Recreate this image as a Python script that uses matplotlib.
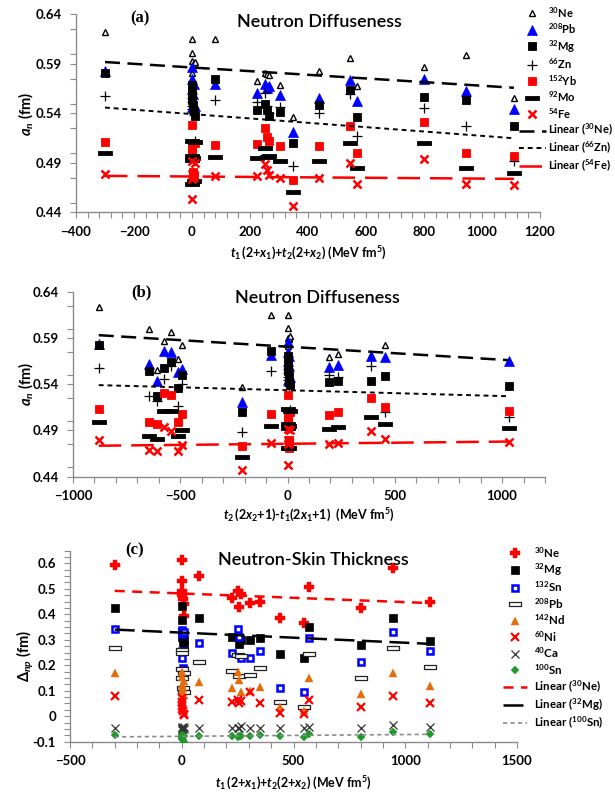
import numpy as np
import matplotlib
matplotlib.use('Agg')
import matplotlib.pyplot as plt
from matplotlib.path import Path
from matplotlib.ticker import MultipleLocator, FixedLocator, FixedFormatter

plt.rcParams['font.family'] = ['Lato', 'DejaVu Sans']
plt.rcParams['mathtext.fontset'] = 'custom'
plt.rcParams['mathtext.it'] = 'Lato:italic:bold'
plt.rcParams['mathtext.rm'] = 'Lato:bold'
plt.rcParams['mathtext.bf'] = 'Lato:bold'
plt.rcParams['mathtext.default'] = 'regular'

# ---------------- data: panel (a) ----------------
x_sum = [-300, 0, 0, 0, 0, 5, 8, 10, 78, 225, 250, 258, 265, 305, 348, 438, 545, 570, 800, 945, 1110]
an_Ne30 = [0.622, 0.615, 0.601, 0.593, 0.581, 0.589, 0.590, 0.592, 0.615, 0.573, 0.581, 0.580, 0.579, 0.569, 0.536, 0.583, 0.596, 0.568, 0.587, 0.599, 0.556]
an_Pb208 = [0.583, 0.587, 0.575, 0.547, 0.565, 0.560, 0.570, 0.548, 0.570, 0.561, 0.570, 0.566, 0.568, 0.559, 0.521, 0.556, 0.574, 0.553, 0.575, 0.563, 0.545]
an_Mg32 = [0.581, 0.569, 0.564, 0.559, 0.554, 0.549, 0.543, 0.537, 0.575, 0.544, 0.550, 0.544, 0.537, 0.542, 0.510, 0.549, 0.564, 0.536, 0.557, 0.554, 0.527]
an_Zn66 = [0.558, 0.556, 0.552, 0.545, 0.548, 0.541, 0.538, 0.512, 0.554, 0.552, 0.561, 0.548, 0.540, 0.547, 0.487, 0.541, 0.560, 0.517, 0.546, 0.527, 0.492]
an_Yb152 = [0.511, 0.528, 0.506, 0.501, 0.496, 0.481, 0.478, 0.510, 0.508, 0.509, 0.525, 0.516, 0.512, 0.507, 0.473, 0.507, 0.527, 0.500, 0.531, 0.500, 0.497]
an_Mo92 = [0.500, 0.512, 0.493, 0.469, 0.497, 0.495, 0.472, 0.511, 0.496, 0.495, 0.505, 0.496, 0.497, 0.492, 0.461, 0.492, 0.510, 0.485, 0.510, 0.485, 0.480]
an_Fe54 = [0.479, 0.492, 0.479, 0.474, 0.454, 0.477, 0.476, 0.490, 0.477, 0.477, 0.489, 0.483, 0.478, 0.475, 0.447, 0.475, 0.490, 0.469, 0.494, 0.469, 0.468]
trend_a_Ne30 = [0.592, 0.566]
trend_a_Zn66 = [0.546, 0.515]
trend_a_Fe54 = [0.477, 0.474]

# ---------------- data: panel (b) ----------------
x_diff = [-880, -644, -609, -574, -543, -512, -493, -214, -78, 0, 0, 0, 0, 5, 8, 10, 191, 233, 391, 453, 1030]
bn_Ne30 = [0.623, 0.600, 0.555, 0.587, 0.596, 0.567, 0.582, 0.537, 0.615, 0.615, 0.601, 0.590, 0.581, 0.589, 0.590, 0.592, 0.569, 0.573, 0.572, 0.582, 0.565]
bn_Pb208 = [0.584, 0.562, 0.543, 0.576, 0.575, 0.553, 0.556, 0.521, 0.572, 0.586, 0.575, 0.545, 0.565, 0.560, 0.570, 0.548, 0.559, 0.561, 0.571, 0.569, 0.565]
bn_Mg32 = [0.582, 0.554, 0.527, 0.558, 0.564, 0.536, 0.550, 0.510, 0.576, 0.570, 0.564, 0.559, 0.554, 0.549, 0.544, 0.539, 0.542, 0.543, 0.543, 0.549, 0.538]
bn_Zn66 = [0.558, 0.527, 0.522, 0.546, 0.560, 0.516, 0.540, 0.488, 0.554, 0.556, 0.552, 0.545, 0.548, 0.541, 0.538, 0.512, 0.550, 0.548, 0.560, 0.510, 0.505]
bn_Yb152 = [0.513, 0.499, 0.497, 0.531, 0.528, 0.499, 0.508, 0.473, 0.508, 0.528, 0.506, 0.501, 0.496, 0.480, 0.471, 0.510, 0.507, 0.510, 0.525, 0.515, 0.511]
bn_Mo92 = [0.499, 0.484, 0.481, 0.511, 0.511, 0.484, 0.491, 0.461, 0.495, 0.513, 0.493, 0.471, 0.497, 0.495, 0.471, 0.511, 0.492, 0.494, 0.505, 0.497, 0.493]
bn_Fe54 = [0.480, 0.469, 0.468, 0.494, 0.489, 0.468, 0.474, 0.447, 0.476, 0.492, 0.480, 0.475, 0.453, 0.477, 0.476, 0.490, 0.475, 0.476, 0.489, 0.481, 0.478]
trend_b_Ne30 = [0.593, 0.566]
trend_b_Zn66 = [0.539, 0.527]
trend_b_Fe54 = [0.4735, 0.478]

# ---------------- data: panel (c) ----------------
np_Ne30 = [0.593, 0.613, 0.530, 0.490, 0.475, 0.460, 0.440, 0.395, 0.552, 0.465, 0.491, 0.430, 0.480, 0.443, 0.449, 0.384, 0.364, 0.508, 0.426, 0.580, 0.449]
np_Mg32 = [0.423, 0.432, 0.378, 0.330, 0.310, 0.293, 0.280, 0.300, 0.384, 0.312, 0.312, 0.285, 0.300, 0.299, 0.308, 0.244, 0.230, 0.349, 0.279, 0.387, 0.296]
np_Sn132 = [0.342, 0.338, 0.321, 0.256, 0.230, 0.188, 0.180, 0.330, 0.286, 0.247, 0.342, 0.312, 0.227, 0.227, 0.256, 0.109, 0.096, 0.308, 0.211, 0.332, 0.257]
np_Pb208 = [0.269, 0.260, 0.247, 0.185, 0.151, 0.109, 0.096, 0.170, 0.214, 0.179, 0.240, 0.159, 0.235, 0.162, 0.188, 0.054, 0.037, 0.243, 0.149, 0.266, 0.194]
np_Nd142 = [0.168, 0.175, 0.155, 0.122, 0.096, 0.110, 0.085, 0.140, 0.133, 0.109, 0.175, 0.142, 0.096, 0.100, 0.116, 0.035, 0.022, 0.151, 0.086, 0.168, 0.119]
np_Ni60 = [0.079, 0.070, 0.055, 0.040, 0.030, 0.020, 0.010, 0.005, 0.064, 0.057, 0.064, 0.050, 0.058, 0.096, 0.050, 0.011, 0.009, 0.064, 0.035, 0.081, 0.050]
np_Ca40 = [-0.045, -0.041, -0.054, -0.045, -0.050, -0.048, -0.043, -0.052, -0.045, -0.045, -0.045, -0.045, -0.040, -0.045, -0.045, -0.045, -0.045, -0.041, -0.045, -0.034, -0.041]
np_Sn100 = [-0.074, -0.074, -0.080, -0.085, -0.090, -0.095, -0.100, -0.078, -0.076, -0.076, -0.080, -0.076, -0.078, -0.076, -0.074, -0.076, -0.080, -0.071, -0.080, -0.061, -0.071]
trend_c_Ne30 = [0.492, 0.444]
trend_c_Mg32 = [0.340, 0.284]
trend_c_Sn100 = [-0.081, -0.071]

ytick_a = [0.44, 0.49, 0.54, 0.59, 0.64]
ytick_labels_a = ['0.44', '0.49', '0.54', '0.59', '0.64']
xtick_b = [-1000, -500, 0, 500, 1000]
ytick_c = [-0.1, 0.0, 0.1, 0.2, 0.3, 0.4, 0.5, 0.6]
ytick_labels_c = ['-0.1', '0', '0.1', '0.2', '0.3', '0.4', '0.5', '0.6']

# ---------------- styling ----------------
W, H = 615, 796
fig = plt.figure(figsize=(W / 100, H / 100), dpi=100)

def fx(px):
    return px / W

def fy(py):
    return 1 - py / H

ax_a = fig.add_axes([fx(76), fy(212.5), fx(540 - 76), 198 / H])
ax_b = fig.add_axes([fx(73), fy(476.7), fx(545 - 73), 185 / H])
ax_c = fig.add_axes([fx(70), fy(741.7), fx(517 - 70), (741.7 - 550.6) / H])

dash_solid = Path([(-1.5, -0.5), (1.5, -0.5), (1.5, 0.5), (-1.5, 0.5), (-1.5, -0.5)],
                  [Path.MOVETO, Path.LINETO, Path.LINETO, Path.LINETO, Path.CLOSEPOLY])
dash_hollow = Path([(-1.25, -0.5), (1.25, -0.5), (1.25, 0.5), (-1.25, 0.5), (-1.25, -0.5)],
                   [Path.MOVETO, Path.LINETO, Path.LINETO, Path.LINETO, Path.CLOSEPOLY])

SPINE = '#8c8c8c'
TICKFS = 9.5


def style_axes(ax):
    for s in ['top', 'right']:
        ax.spines[s].set_visible(False)
    for s in ['left', 'bottom']:
        ax.spines[s].set_color(SPINE)
        ax.spines[s].set_linewidth(1.0)
    ax.tick_params(axis='both', which='both', direction='out', color=SPINE, width=0.8, length=4.5)
    ax.tick_params(axis='x', which='major', pad=5, labelsize=TICKFS)
    ax.tick_params(axis='y', which='major', pad=5.5, labelsize=TICKFS)


def bold_ticklabels(ax):
    for lab in ax.get_xticklabels() + ax.get_yticklabels():
        lab.set_fontweight('bold')


def diffuseness_panel(ax, x, ne, pb, mg, zn, yb, mo, fe, tne, tzn, tfe):
    ax.plot(x, ne, ls='none', marker='^', ms=4.6, mfc='white', mec='black', mew=1.0, label=r'$^{30}$Ne', zorder=3)
    ax.plot(x, pb, ls='none', marker='^', ms=7, mfc='#0000ff', mec='#0000ff', mew=0.5, label=r'$^{208}$Pb', zorder=3)
    ax.plot(x, mg, ls='none', marker='s', ms=6.2, mfc='black', mec='black', mew=0.6, label=r'$^{32}$Mg', zorder=3)
    ax.plot(x, zn, ls='none', marker='+', ms=7.5, mec='black', mew=0.9, label=r'$^{66}$Zn', zorder=3)
    ax.plot(x, yb, ls='none', marker='s', ms=6.2, mfc='#ff0000', mec='#ff0000', mew=0.6, label=r'$^{152}$Yb', zorder=3)
    ax.plot(x, mo, ls='none', marker=dash_solid, ms=9.5, mfc='black', mec='black', mew=0.6, label=r'$^{92}$Mo', zorder=3)
    ax.plot(x, fe, ls='none', marker='x', ms=5.5, mec='#ff0000', mew=1.8, label=r'$^{54}$Fe', zorder=3)
    xr = [min(x), max(x)]
    ax.plot(xr, tne, color='black', lw=1.8, ls=(0, (6, 3)), label=r'Linear ($^{30}$Ne)', zorder=4)
    ax.plot(xr, tzn, color='black', lw=1.4, ls=(0, (2.5, 2)), label=r'Linear ($^{66}$Zn)', zorder=4)
    ax.plot(xr, tfe, color='#ff0000', lw=1.8, ls=(0, (9, 4)), label=r'Linear ($^{54}$Fe)', zorder=4)
    ax.set_ylim(0.44, 0.64)
    ax.yaxis.set_major_locator(FixedLocator(ytick_a))
    ax.yaxis.set_major_formatter(FixedFormatter(ytick_labels_a))
    ax.yaxis.set_minor_locator(MultipleLocator(0.025))
    style_axes(ax)


# ---- panel (a)
diffuseness_panel(ax_a, x_sum, an_Ne30, an_Pb208, an_Mg32, an_Zn66, an_Yb152, an_Mo92, an_Fe54,
                  trend_a_Ne30, trend_a_Zn66, trend_a_Fe54)
ax_a.set_xlim(-400, 1200)
ax_a.xaxis.set_major_locator(MultipleLocator(200))
ax_a.xaxis.set_minor_locator(MultipleLocator(40))
bold_ticklabels(ax_a)

# ---- panel (b)
diffuseness_panel(ax_b, x_diff, bn_Ne30, bn_Pb208, bn_Mg32, bn_Zn66, bn_Yb152, bn_Mo92, bn_Fe54,
                  trend_b_Ne30, trend_b_Zn66, trend_b_Fe54)
ax_b.set_xlim(-1000, 1200)
ax_b.xaxis.set_major_locator(FixedLocator(xtick_b))
ax_b.xaxis.set_minor_locator(MultipleLocator(100))
bold_ticklabels(ax_b)

# ---- panel (c)
axc = ax_c
axc.plot(x_sum, np_Ne30, ls='none', marker='P', ms=7.5, mfc='#ff0000', mec='#ff0000', mew=0.3, label=r'$^{30}$Ne', zorder=3)
axc.plot(x_sum, np_Mg32, ls='none', marker='s', ms=5.5, mfc='black', mec='black', mew=0.5, label=r'$^{32}$Mg', zorder=3)
axc.plot(x_sum, np_Sn132, ls='none', marker='s', ms=5.0, mfc='white', mec='#0000ff', mew=1.8, label=r'$^{132}$Sn', zorder=3)
axc.plot(x_sum, np_Pb208, ls='none', marker=dash_hollow, ms=8, mfc='white', mec='#222222', mew=0.9, label=r'$^{208}$Pb', zorder=3)
axc.plot(x_sum, np_Nd142, ls='none', marker='^', ms=6.3, mfc='#e46c0a', mec='#e46c0a', mew=0.3, label=r'$^{142}$Nd', zorder=3)
axc.plot(x_sum, np_Ni60, ls='none', marker='x', ms=5.5, mec='#ff0000', mew=1.6, label=r'$^{60}$Ni', zorder=3)
axc.plot(x_sum, np_Ca40, ls='none', marker='x', ms=6, mec='#333333', mew=0.9, label=r'$^{40}$Ca', zorder=3)
axc.plot(x_sum, np_Sn100, ls='none', marker='D', ms=4.5, mfc='#1f9a2a', mec='#1f9a2a', mew=0.3, label=r'$^{100}$Sn', zorder=3)
xr = [min(x_sum), max(x_sum)]
axc.plot(xr, trend_c_Ne30, color='#ff0000', lw=1.8, ls=(0, (4, 3)), label=r'Linear ($^{30}$Ne)', zorder=4)
axc.plot(xr, trend_c_Mg32, color='black', lw=1.8, ls=(0, (8, 3)), label=r'Linear ($^{32}$Mg)', zorder=4)
axc.plot(xr, trend_c_Sn100, color='#8a8a8a', lw=1.2, ls=(0, (2.5, 2)), label=r'Linear ($^{100}$Sn)', zorder=4)
axc.set_xlim(-500, 1500)
axc.set_ylim(-0.1, 0.65)
axc.xaxis.set_major_locator(MultipleLocator(500))
axc.xaxis.set_minor_locator(MultipleLocator(100))
axc.yaxis.set_major_locator(FixedLocator(ytick_c))
axc.yaxis.set_major_formatter(FixedFormatter(ytick_labels_c))
axc.yaxis.set_minor_locator(MultipleLocator(0.025))
style_axes(axc)
bold_ticklabels(axc)

# ---- labels
LABFS = 9.0
xl_sum = r'$\mathit{t}_1\,$(2+$\mathit{x}_1$)+$\mathit{t}_2$(2+$\mathit{x}_2$) (MeV fm$^5$)'
xl_diff = r'$\mathit{t}_2\,$(2$\mathit{x}_2$+1)-$\mathit{t}_1$(2$\mathit{x}_1$+1)  (MeV fm$^5$)'
for ax, xl, yl, xlc, ylc, yly in [
        (ax_a, xl_sum, r'$\mathit{a}_\mathit{n}$ (fm)', -0.205, -0.108, 0.5),
        (ax_b, xl_diff, r'$\mathit{a}_\mathit{n}$ (fm)', -0.207, -0.1, 0.5),
        (ax_c, xl_sum, r'$\mathit{\Delta}_\mathit{np}$ (fm)', -0.218, -0.1, 0.45)]:
    ax.set_xlabel(xl, fontsize=LABFS, fontweight='bold', ha='center', va='center')
    ax.set_ylabel(yl, fontsize=10.5, fontweight='bold', va='center')
    ax.xaxis.set_label_coords(0.5, xlc)
    ax.yaxis.set_label_coords(ylc, yly)

# ---- titles and panel tags
TFS = 13
for txt, px, py in [('Neutron Diffuseness', 319, 22), ('Neutron Diffuseness', 317.5, 298),
                    ('Neutron-Skin Thickness', 313.5, 560)]:
    fig.text(fx(px), fy(py), txt, fontsize=TFS, fontweight='semibold', ha='center', va='center')
for tag, px, py in [('(a)', 140, 18), ('(b)', 141, 292), ('(c)', 134.5, 550)]:
    fig.text(fx(px), fy(py), tag, fontsize=12, fontweight='bold', family=['Liberation Serif', 'DejaVu Serif'],
             ha='center', va='center')

# ---- legends
h, l = ax_a.get_legend_handles_labels()
leg_a = fig.legend(h, l, loc='upper left', bbox_to_anchor=(fx(519), fy(5)), frameon=False, fontsize=8.0,
                   borderpad=0, borderaxespad=0, handlelength=2.4, handletextpad=0.25, labelspacing=0.17)
h, l = ax_c.get_legend_handles_labels()
leg_c = fig.legend(h, l, loc='upper left', bbox_to_anchor=(fx(503), fy(545)), frameon=False, fontsize=8.3,
                   borderpad=0, borderaxespad=0, handlelength=2.1, handletextpad=0.6, labelspacing=0.16)
for leg in (leg_a, leg_c):
    for t in leg.get_texts():
        t.set_fontweight('bold')

fig.savefig('out.png', dpi=100)
